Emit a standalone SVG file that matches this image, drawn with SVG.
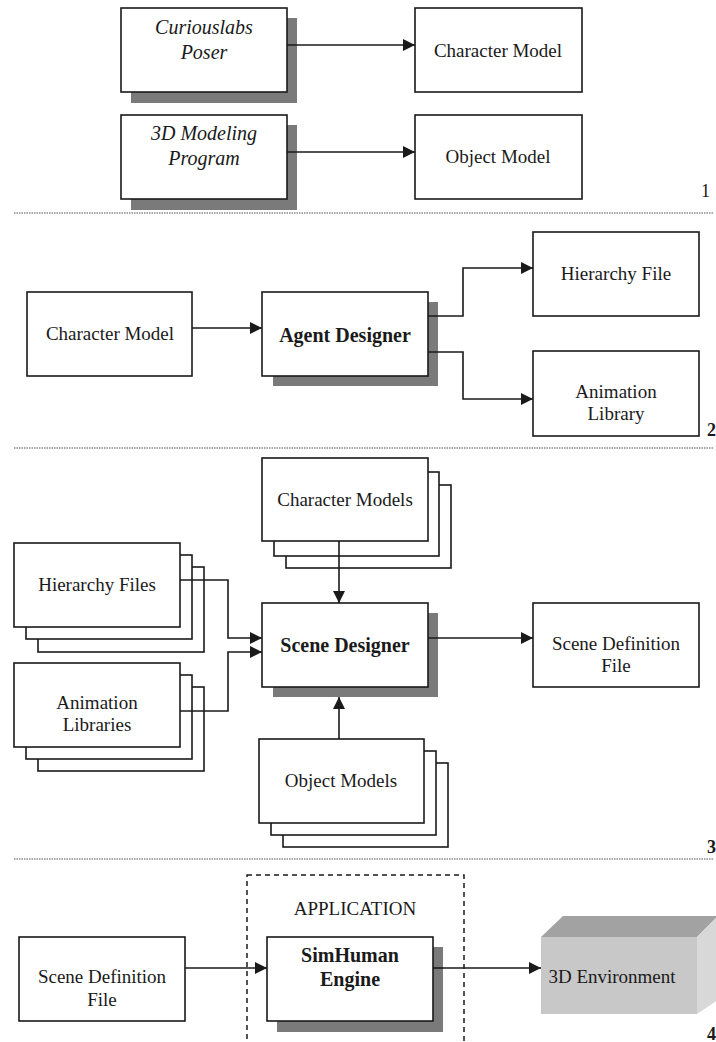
<svg xmlns="http://www.w3.org/2000/svg" width="716" height="1042" viewBox="0 0 716 1042">
<style>
.box{fill:#fff;stroke:#1a1a1a;stroke-width:1.6}
.sh{fill:#7a7a7a}
.t{font-family:"Liberation Serif","Times New Roman",serif;font-size:19px;fill:#1a1a1a;text-anchor:middle}
.b{font-weight:bold;font-size:20px}
.i{font-style:italic;font-size:20px}
.n{font-family:"Liberation Serif","Times New Roman",serif;font-size:18px;fill:#1a1a1a}
.sep{stroke:#8a8a8a;stroke-width:1.5;stroke-dasharray:1.5,1}
.c{fill:none;stroke:#1a1a1a;stroke-width:1.6;marker-end:url(#ah)}
</style>
<defs>
<marker id="ah" markerUnits="userSpaceOnUse" markerWidth="13" markerHeight="12" refX="12" refY="6" orient="auto">
<path d="M0,0 L12,6 L0,12 z" fill="#1a1a1a"/>
</marker>
</defs>
<rect width="716" height="1042" fill="#fff"/>

<g id="separators">
<line class="sep" x1="14" y1="213" x2="713" y2="213"/>
<line class="sep" x1="14" y1="448" x2="713" y2="448"/>
<line class="sep" x1="14" y1="859" x2="713" y2="859"/>
<text class="n" x="701" y="197">1</text>
<text class="n" x="707" y="436" font-weight="bold">2</text>
<text class="n" x="707" y="853" font-weight="bold">3</text>
<text class="n" x="707" y="1040" font-weight="bold">4</text>
</g>

<!-- Section 1 -->
<g id="poser">
<rect class="sh" x="131" y="18" width="166" height="85"/>
<rect class="box" x="121" y="8" width="166" height="84"/>
<text class="t i" x="204" y="34">Curiouslabs</text>
<text class="t i" x="204" y="59">Poser</text>
</g>
<g id="charmodel1">
<rect class="box" x="415" y="8" width="167" height="84"/>
<text class="t" x="498" y="57">Character Model</text>
</g>
<g id="modeling">
<rect class="sh" x="131" y="125" width="166" height="85"/>
<rect class="box" x="121" y="115" width="166" height="84"/>
<text class="t i" x="204" y="140">3D Modeling</text>
<text class="t i" x="204" y="165">Program</text>
</g>
<g id="objmodel1">
<rect class="box" x="415" y="115" width="167" height="84"/>
<text class="t" x="498" y="163">Object Model</text>
</g>

<!-- Section 2 -->
<g id="charmodel2">
<rect class="box" x="27" y="292" width="165" height="84"/>
<text class="t" x="110" y="340">Character Model</text>
</g>
<g id="agentdesigner">
<rect class="sh" x="273" y="302" width="165" height="84"/>
<rect class="box" x="262" y="292" width="166" height="84"/>
<text class="t b" x="345" y="342">Agent Designer</text>
</g>
<g id="hierfile">
<rect class="box" x="533" y="232" width="166" height="84"/>
<text class="t" x="616" y="280">Hierarchy File</text>
</g>
<g id="animlib">
<rect class="box" x="533" y="351" width="166" height="85"/>
<text class="t" x="616" y="398">Animation</text>
<text class="t" x="616" y="420">Library</text>
</g>

<!-- Section 3 -->
<g id="charmodels">
<rect class="box" x="286" y="485" width="165" height="83"/>
<rect class="box" x="274" y="472" width="165" height="84"/>
<rect class="box" x="262" y="458" width="166" height="83"/>
<text class="t" x="345" y="506">Character Models</text>
</g>
<g id="hierfiles">
<rect class="box" x="38" y="567" width="166" height="85"/>
<rect class="box" x="26" y="555" width="166" height="84"/>
<rect class="box" x="14" y="543" width="166" height="84"/>
<text class="t" x="97" y="591">Hierarchy Files</text>
</g>
<g id="animlibs">
<rect class="box" x="38" y="687" width="166" height="84"/>
<rect class="box" x="26" y="675" width="166" height="84"/>
<rect class="box" x="14" y="663" width="166" height="84"/>
<text class="t" x="97" y="709">Animation</text>
<text class="t" x="97" y="731">Libraries</text>
</g>
<g id="scenedesigner">
<rect class="sh" x="273" y="613" width="165" height="84"/>
<rect class="box" x="262" y="603" width="166" height="84"/>
<text class="t b" x="345" y="652">Scene Designer</text>
</g>
<g id="scenedef1">
<rect class="box" x="533" y="603" width="166" height="84"/>
<text class="t" x="616" y="650">Scene Definition</text>
<text class="t" x="616" y="672">File</text>
</g>
<g id="objmodels">
<rect class="box" x="283" y="763" width="165" height="84"/>
<rect class="box" x="271" y="751" width="165" height="84"/>
<rect class="box" x="259" y="739" width="165" height="84"/>
<text class="t" x="341" y="787">Object Models</text>
</g>

<!-- Section 4 -->
<g id="application">
<rect x="247" y="875" width="217" height="180" fill="none" stroke="#1a1a1a" stroke-width="1.5" stroke-dasharray="5,4"/>
<text class="t" x="355" y="915">APPLICATION</text>
</g>
<g id="scenedef2">
<rect class="box" x="19" y="937" width="166" height="84"/>
<text class="t" x="102" y="983">Scene Definition</text>
<text class="t" x="102" y="1006">File</text>
</g>
<g id="simhuman">
<rect class="sh" x="277" y="947" width="166" height="85"/>
<rect class="box" x="267" y="937" width="166" height="84"/>
<text class="t b" x="350" y="962">SimHuman</text>
<text class="t b" x="350" y="986">Engine</text>
</g>
<g id="environment">
<polygon points="541,937 563,916 718,916 697,937" fill="#a2a2a2"/>
<polygon points="697,937 718,916 718,1000 697,1014" fill="#d8d8d8"/>
<rect x="541" y="937" width="156" height="77" fill="#c8c8c8"/>
<text class="t" x="612" y="983" fill="#333">3D Environment</text>
</g>

<g id="connectors">
<path class="c" d="M287,45 H415"/>
<path class="c" d="M287,152 H415"/>
<path class="c" d="M192,328 H262"/>
<path class="c" d="M428,316 H463 V268 H533"/>
<path class="c" d="M428,352 H463 V399 H533"/>
<path class="c" d="M339,541 V603"/>
<path class="c" d="M180,580 H228 V638 H262"/>
<path class="c" d="M180,711 H228 V652 H262"/>
<path class="c" d="M428,638 H533"/>
<path class="c" d="M339,739 V697"/>
<path class="c" d="M185,968 H267"/>
<path class="c" d="M443,968 H541"/>
<path fill="none" stroke="#1a1a1a" stroke-width="1.6" d="M433,968 H443"/>
</g>
</svg>
